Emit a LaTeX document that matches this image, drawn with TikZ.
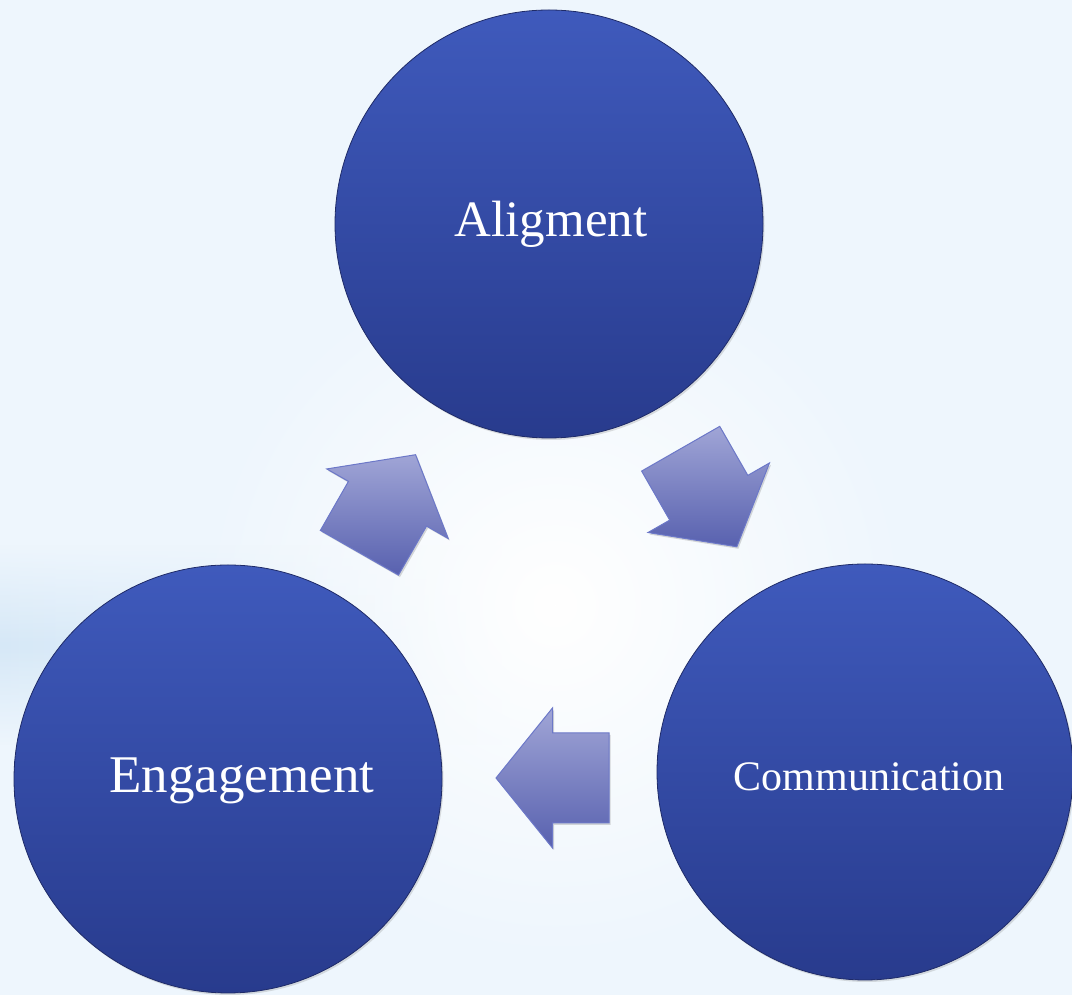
\documentclass[tikz,border=0pt]{standalone}
\usepackage{fontspec}
\setmainfont{Liberation Serif}
\usetikzlibrary{shadows,fadings}
\definecolor{bgc}{HTML}{EEF6FD}
\definecolor{bandc}{HTML}{D6E8F7}
\definecolor{circtop}{HTML}{3F5ABC}
\definecolor{circbot}{HTML}{283B8D}
\definecolor{circedge}{HTML}{1F2B68}
\definecolor{arrtop}{HTML}{A0A5D6}
\definecolor{arrbot}{HTML}{5861AF}
\definecolor{arredge}{HTML}{6C78C8}
\tikzfading[name=bandlow, top color=transparent!0, bottom color=transparent!100]
\tikzfading[name=bandhigh, top color=transparent!100, bottom color=transparent!0]
\tikzfading[name=glowfade, inner color=transparent!0, outer color=transparent!100]
\tikzset{
  stage/.style={circle, draw=circedge, line width=0.8pt, top color=circtop, bottom color=circbot, inner sep=0pt,
    drop shadow={opacity=0.25, shadow xshift=1.5pt, shadow yshift=-2pt}},
  stagelabel/.style={anchor=base, text=white, inner sep=0pt},
  blockarrow/.style={top color=arrtop, bottom color=arrbot, draw=arredge, line width=1pt, line join=miter,
    drop shadow={opacity=0.3, shadow xshift=1.5pt, shadow yshift=-2pt}}
}
\newcommand\blockarr[2]{%
  \path[blockarrow] ([shift={(#1)},rotate=#2]56.5,0) -- ([shift={(#1)},rotate=#2]0,70)
   -- ([shift={(#1)},rotate=#2]0,45) -- ([shift={(#1)},rotate=#2]-56.5,45)
   -- ([shift={(#1)},rotate=#2]-56.5,-45) -- ([shift={(#1)},rotate=#2]0,-45)
   -- ([shift={(#1)},rotate=#2]0,-70) -- cycle;}
\begin{document}
\begin{tikzpicture}[x=1pt,y=1pt]
\useasboundingbox (0,0) rectangle (1072,995);
\clip (0,0) rectangle (1072,995);
% background
\fill[bgc] (0,0) rectangle (1072,995);
\shade[left color=bandc, right color=bgc, path fading=bandlow] (0,250) rectangle (520,350);
\shade[left color=bandc, right color=bgc, path fading=bandhigh] (0,350) rectangle (520,450);
\fill[white, path fading=glowfade] (555,390) circle (360);
% circles
\node[stage, minimum size=428pt] (align) at (549,771) {};
\node[stage, minimum size=428pt] (engage) at (228,216) {};
\node[stage, minimum size=416pt] (comm) at (865,223) {};
\node[stagelabel, font=\fontsize{51}{60}\selectfont] (alignT) at (551,758) {Aligment};
\node[stagelabel, font=\fontsize{53}{62}\selectfont] (engageT) at (242,202) {Engagement};
\node[stagelabel, font=\fontsize{42}{50}\selectfont] (commT) at (869,204) {Communication};
% block arrows
\coordinate (arrEA) at (387.5,491.25);
\coordinate (arrAC) at (708.75,497.25);
\coordinate (arrCE) at (552.5,217);
\blockarr{arrEA}{60.2}
\blockarr{arrAC}{-60.2}
\blockarr{arrCE}{180}
\end{tikzpicture}
\end{document}
